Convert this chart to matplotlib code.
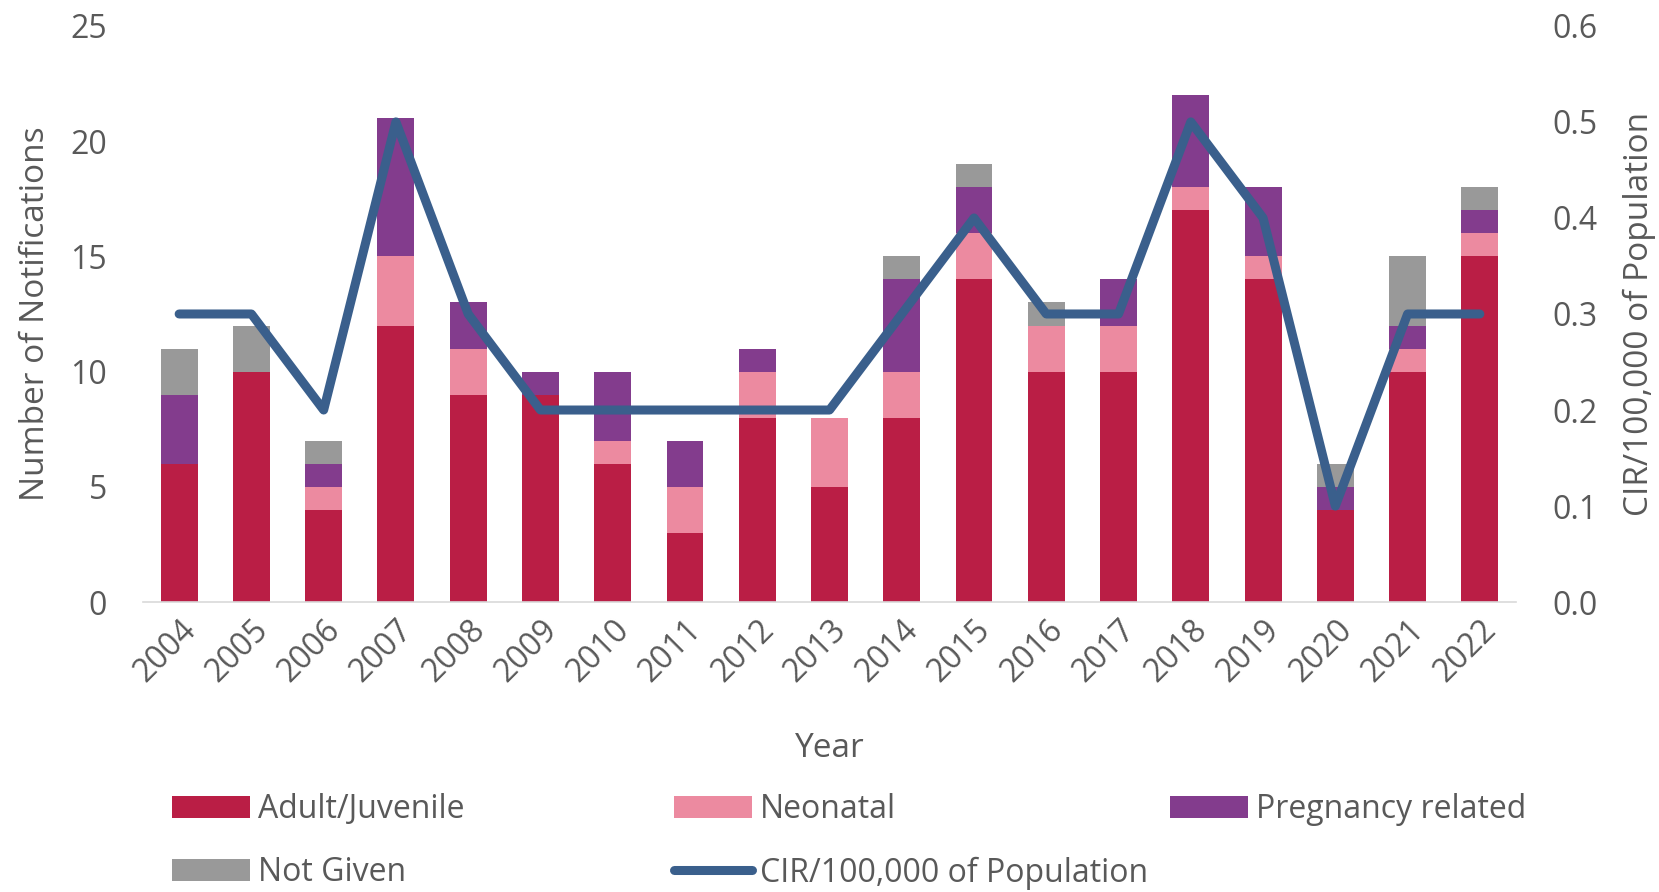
import matplotlib.pyplot as plt
import numpy as np

years = [str(y) for y in range(2004, 2023)]
adult = [6, 10, 4, 12, 9, 9, 6, 3, 8, 5, 8, 14, 10, 10, 17, 14, 4, 10, 15]
neonatal = [0, 0, 1, 3, 2, 0, 1, 2, 2, 3, 2, 2, 2, 2, 1, 1, 0, 1, 1]
pregnancy = [3, 0, 1, 6, 2, 1, 3, 2, 1, 0, 4, 2, 0, 2, 4, 3, 1, 1, 1]
not_given = [2, 2, 1, 0, 0, 0, 0, 0, 0, 0, 1, 1, 1, 0, 0, 0, 1, 3, 1]
cir = [0.3, 0.3, 0.2, 0.5, 0.3, 0.2, 0.2, 0.2, 0.2, 0.2, 0.3, 0.4, 0.3, 0.3, 0.5, 0.4, 0.1, 0.3, 0.3]

plt.rcParams['font.family'] = ['Open Sans', 'DejaVu Sans']
grey = '#595959'
fs_tick = 23
fs_label = 24

fig = plt.figure(figsize=(16.59, 8.92), dpi=100)
ax = fig.add_axes([0.0862, 0.325, 0.8276, 0.646])

x = np.arange(len(years))
series = [
    ('Adult/Juvenile', adult, '#BA1E45'),
    ('Neonatal', neonatal, '#EC8AA0'),
    ('Pregnancy related', pregnancy, '#833C8D'),
    ('Not Given', not_given, '#999999'),
]
bottom = np.zeros(len(years))
handles = {}
for label, vals, color in series:
    b = ax.bar(x, vals, 0.51, bottom=bottom, color=color, label=label)
    handles[label] = b
    bottom += np.array(vals)

ax.set_xlim(-0.5, len(years) - 0.5)
ax.set_ylim(0, 25)
ax.set_yticks(range(0, 26, 5))
ax.set_xticks(x)
ax.set_xticklabels(years, rotation=45, ha='right', rotation_mode='anchor')
ax.tick_params(axis='both', length=0, colors=grey, labelsize=fs_tick)
ax.tick_params(axis='y', pad=26)
ax.tick_params(axis='x', pad=8)
for s in ['top', 'right', 'left']:
    ax.spines[s].set_visible(False)
ax.spines['bottom'].set_color('#d9d9d9')
ax.spines['bottom'].set_linewidth(1.2)
ax.set_ylabel('Number of Notifications', color=grey, fontsize=fs_label, labelpad=13)
ax.set_xlabel('Year', color=grey, fontsize=fs_label, labelpad=31)

ax2 = ax.twinx()
line, = ax2.plot(x, cir, color='#3A5F8C', linewidth=6.5, solid_joinstyle='round',
                 solid_capstyle='round', label='CIR/100,000 of Population')
ax2.set_ylim(0, 0.6)
ax2.set_yticks(np.arange(0, 0.61, 0.1))
ax2.set_yticklabels(['%.1f' % v for v in np.arange(0, 0.61, 0.1)])
ax2.tick_params(axis='y', length=0, colors=grey, labelsize=fs_tick, pad=26)
for s in ['top', 'right', 'left', 'bottom']:
    ax2.spines[s].set_visible(False)
ax2.set_ylabel('CIR/100,000 of Population', color=grey, fontsize=fs_label, labelpad=18)

# legend in three columns under the chart
cols = [
    (['Adult/Juvenile', 'Not Given'], 0.1037),
    (['Neonatal', 'CIR/100,000 of Population'], 0.406),
    (['Pregnancy related'], 0.705),
]
for labels, xpos in cols:
    hs = [line if l.startswith('CIR') else handles[l] for l in labels]
    leg = fig.legend(hs, labels, loc='upper left', bbox_to_anchor=(xpos, 0.111),
                     frameon=False, fontsize=23, handlelength=2.45, handleheight=0.68,
                     handletextpad=0.25, labelspacing=0.95, borderaxespad=0,
                     borderpad=0)
    for t in leg.get_texts():
        t.set_color(grey)

fig.savefig('out.png', dpi=100)
